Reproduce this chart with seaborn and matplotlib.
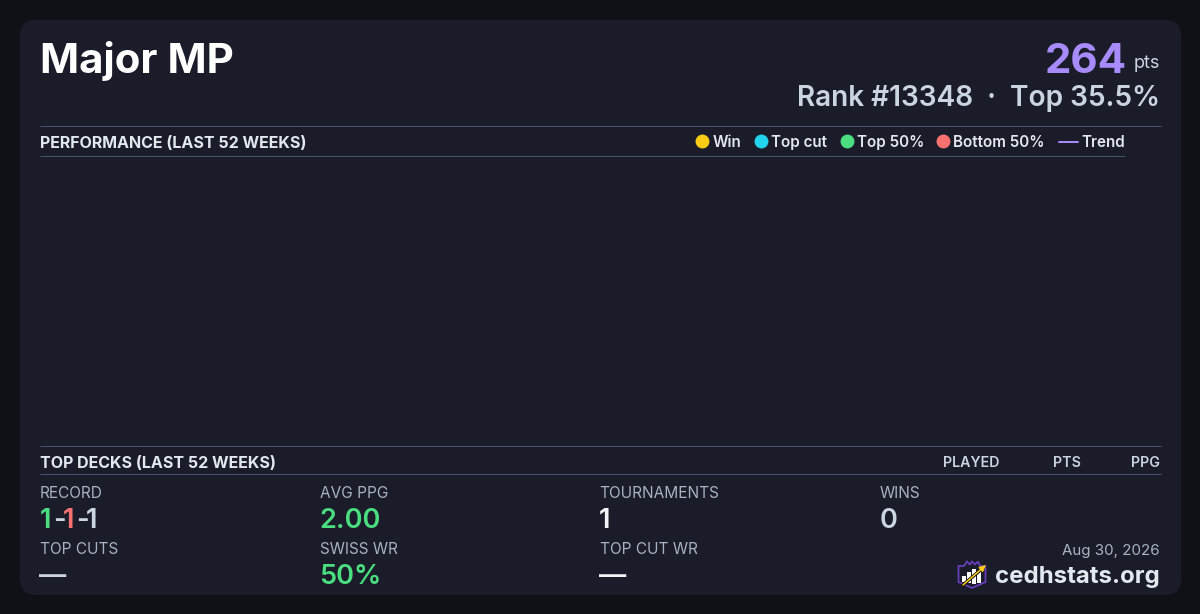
import matplotlib
matplotlib.use("Agg")
import matplotlib.pyplot as plt
from matplotlib.patches import FancyBboxPatch, Polygon, Rectangle
import seaborn as sns
import pandas as pd

sns.set_theme(style="white")
plt.rcParams['font.family'] = ['Inter', 'DejaVu Sans']

name = "Major MP"
points = "264"
rank_line = "Rank #13348  ·  Top 35.5%"
perf_title = "PERFORMANCE (LAST 52 WEEKS)"
decks_title = "TOP DECKS (LAST 52 WEEKS)"
deck_columns = ["PLAYED", "PTS", "PPG"]
legend_labels = ["Win", "Top cut", "Top 50%", "Bottom 50%"]
legend_colors = ["#facc15", "#22d3ee", "#4ade80", "#f87171"]
legend_dot_x = [702.5, 761.5, 847.5, 943.5]
legend_text_x = [712.5, 771, 857, 953]
stat_labels = ["RECORD", "AVG PPG", "TOURNAMENTS", "WINS", "TOP CUTS", "SWISS WR", "TOP CUT WR"]
stat_values = ["", "2.00", "1", "0", "—", "50%", "—"]
stat_colors = ["#cbd5e1", "#4ade80", "#f1f5f9", "#cbd5e1", "#cbd5e1", "#4ade80", "#f1f5f9"]
stat_x = [40, 320, 600, 880, 40, 320, 600]
stat_row = [0, 0, 0, 0, 1, 1, 1]
record_parts = ["1", "-", "1", "-", "1"]
record_colors = ["#4ade80", "#cbd5e1", "#f87171", "#cbd5e1", "#cbd5e1"]
date_text = "Aug 30, 2026"
brand = "cedhstats.org"

BG = "#0f1117"
CARD = "#1a1d29"
RULE = "#46536b"
TXT = "#e2e8f0"
MUTED = "#a9b2c0"

fig = plt.figure(figsize=(12, 6.14), dpi=100, facecolor=BG)
ax = fig.add_axes([0, 0, 1, 1])
ax.set_xlim(0, 1200)
ax.set_ylim(614, 0)
ax.axis("off")

ax.add_patch(FancyBboxPatch((20, 20), 1161, 575, boxstyle="round,pad=0,rounding_size=16",
                            fc=CARD, ec="none", zorder=0))

def px(size):
    return size * 0.72

def T(x, y, s, size, color, weight=400, ha="left"):
    return ax.text(x, y, s, fontsize=px(size), color=color, fontweight=weight,
                   ha=ha, va="baseline", zorder=3)

T(40, 73, name, 42, "#ffffff", 700)
T(1127.3, 73, points, 42, "#a78bfa", 700, ha="right")
T(1160, 68, "pts", 18, "#cbd5e1", 400, ha="right")
T(1160, 106, rank_line, 28, "#cbd5e1", 600, ha="right")

for x0, x1, y in [(40, 1161, 126), (40, 1125, 156), (40, 1161, 446), (40, 1161, 474)]:
    ax.plot([x0, x1], [y, y], color=RULE, lw=0.72, solid_capstyle="butt", zorder=2)

T(40, 148, perf_title, 16, TXT, 700)
T(40, 468, decks_title, 16, TXT, 700)

legend_df = pd.DataFrame({"x": legend_dot_x, "y": [141.5] * 4, "k": legend_labels})
sns.scatterplot(data=legend_df, x="x", y="y", hue="k", hue_order=legend_labels,
                palette=legend_colors, s=100, marker="o", linewidth=0, legend=False,
                ax=ax, zorder=3)
for x, lab in zip(legend_text_x, legend_labels):
    T(x, 147, lab, 15.2, TXT, 600)
trend_df = pd.DataFrame({"x": [1059, 1078], "y": [141.5, 141.5]})
sns.lineplot(data=trend_df, x="x", y="y", color="#a78bfa", lw=1.44, ax=ax, legend=False, zorder=3)
T(1081, 147, "Trend", 15.2, TXT, 600)
ax.set_xlabel("")
ax.set_ylabel("")
ax.set_xlim(0, 1200)
ax.set_ylim(614, 0)

for x, lab in zip([1000, 1081, 1160], deck_columns):
    T(x, 467, lab, 14.2, "#cbd5e1", 600, ha="right")

rows = [(497.6, 528), (553.6, 584)]
for x, lab, val, col, r in zip(stat_x, stat_labels, stat_values, stat_colors, stat_row):
    T(x - 0.4, rows[r][0], lab, 15.4, MUTED, 400)
    if val:
        T(x - 0.8, rows[r][1], val, 27.2, col, 600)

cx = 39.5
for part, col in zip(record_parts, record_colors):
    T(cx, rows[0][1], part, 27.2, col, 600)
    cx += {"1": 13.2, "-": 10.0}[part]

T(1160, 555, date_text, 15.1, MUTED, 400, ha="right")
T(1160, 583, brand, 24, TXT, 700, ha="right")

# logo
ax.add_patch(Polygon([(958.5, 566), (964, 566), (967, 561.5), (970, 564.5), (972, 561.5), (975, 564.5),
                      (978, 561.5), (980, 566), (985.5, 566), (985.5, 582), (972, 588), (958.5, 582)],
                     closed=True, fc="none", ec="#6d3fc4", lw=1.2, zorder=3))
for bx, by, bh in [(962, 576, 6), (967, 572, 11), (972, 569, 15), (977, 572, 11)]:
    ax.add_patch(Rectangle((bx, by), 3.6, bh, fc="#ffffff", ec="none", zorder=4))
ax.plot([963, 984], [585, 567], color="#111111", lw=2.4, zorder=5)
ax.annotate("", xy=(986, 565), xytext=(963, 585),
            arrowprops=dict(arrowstyle="-|>,head_width=0.15,head_length=0.3",
                            color="#facc15", lw=1.1, shrinkA=0, shrinkB=0), zorder=6)

fig.savefig("out.png", dpi=100, facecolor=BG)
